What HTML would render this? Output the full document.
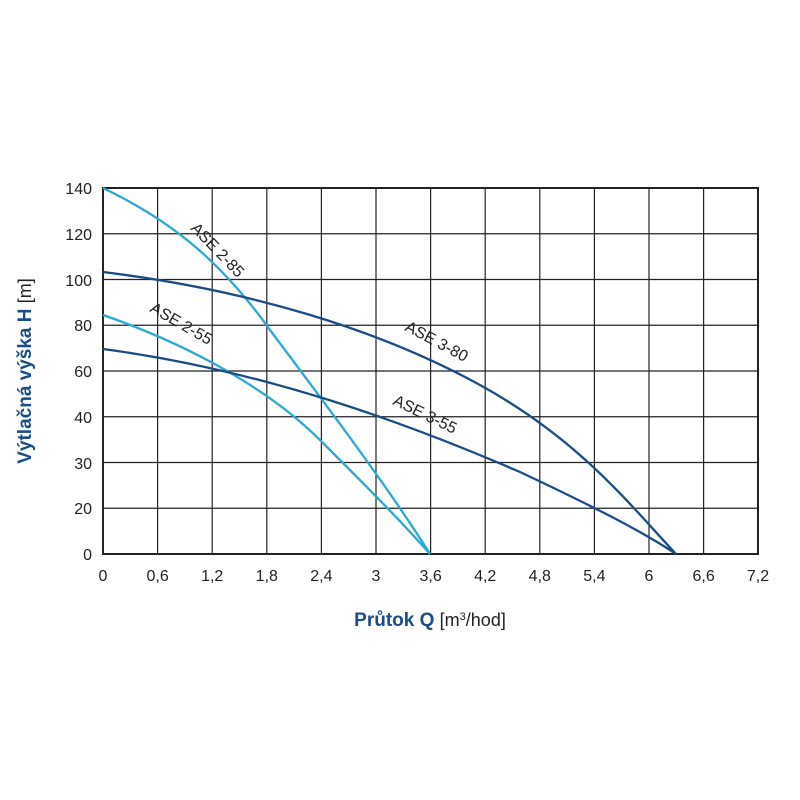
<!DOCTYPE html>
<html><head><meta charset="utf-8"><style>body{margin:0;background:#fff}svg{display:block}</style></head>
<body>
<svg width="800" height="800" xmlns="http://www.w3.org/2000/svg" font-family="Liberation Sans, sans-serif">
<rect width="800" height="800" fill="#fff"/>
<g stroke="#222" stroke-width="1.2">
<line x1="157.6" y1="188" x2="157.6" y2="554"/><line x1="212.2" y1="188" x2="212.2" y2="554"/><line x1="266.8" y1="188" x2="266.8" y2="554"/><line x1="321.4" y1="188" x2="321.4" y2="554"/><line x1="376" y1="188" x2="376" y2="554"/><line x1="430.6" y1="188" x2="430.6" y2="554"/><line x1="485.2" y1="188" x2="485.2" y2="554"/><line x1="539.8" y1="188" x2="539.8" y2="554"/><line x1="594.4" y1="188" x2="594.4" y2="554"/><line x1="649" y1="188" x2="649" y2="554"/><line x1="703.6" y1="188" x2="703.6" y2="554"/>
<line x1="103" y1="233.75" x2="758" y2="233.75"/><line x1="103" y1="279.5" x2="758" y2="279.5"/><line x1="103" y1="325.25" x2="758" y2="325.25"/><line x1="103" y1="371" x2="758" y2="371"/><line x1="103" y1="416.75" x2="758" y2="416.75"/><line x1="103" y1="462.5" x2="758" y2="462.5"/><line x1="103" y1="508.25" x2="758" y2="508.25"/>
</g>
<rect x="103" y="188" width="655" height="366" fill="none" stroke="#222" stroke-width="2"/>
<g fill="none" stroke-width="2.3">
<path d="M103,188 C170,220 220,260 270,330 C330,410 390,490 430,554" stroke="#2aa8d6"/>
<path d="M103,315 C190,345 270,390 320,440 C370,490 400,520 430,554" stroke="#2aa8d6"/>
<path d="M103,272 C250,290 380,330 480,385 C580,440 630,505 676,554" stroke="#1a4c85"/>
<path d="M103,349 C260,370 400,420 520,472 C590,505 640,530 676,554" stroke="#1a4c85"/>
</g>
<g font-size="16" fill="#222">
<text transform="translate(190,229) rotate(46)">ASE 2-85</text>
<text transform="translate(149,311) rotate(30)">ASE 2-55</text>
<text transform="translate(404,330) rotate(28)">ASE 3-80</text>
<text transform="translate(392,404) rotate(26)">ASE 3-55</text>
</g>
<g font-size="16" fill="#222" text-anchor="end">
<text x="92" y="194">140</text><text x="92" y="240">120</text><text x="92" y="286">100</text><text x="92" y="331">80</text><text x="92" y="377">60</text><text x="92" y="423">40</text><text x="92" y="469">30</text><text x="92" y="514">20</text><text x="92" y="560">0</text>
</g>
<g font-size="16" fill="#222" text-anchor="middle">
<text x="103" y="581">0</text><text x="157.6" y="581">0,6</text><text x="212.2" y="581">1,2</text><text x="266.8" y="581">1,8</text><text x="321.4" y="581">2,4</text><text x="376" y="581">3</text><text x="430.6" y="581">3,6</text><text x="485.2" y="581">4,2</text><text x="539.8" y="581">4,8</text><text x="594.4" y="581">5,4</text><text x="649" y="581">6</text><text x="703.6" y="581">6,6</text><text x="758" y="581">7,2</text>
</g>
<text x="430" y="626" text-anchor="middle" font-size="19" fill="#1a4c85"><tspan font-weight="bold">Průtok Q</tspan> <tspan fill="#222" font-size="18">[m<tspan baseline-shift="super" font-size="11">3</tspan>/hod]</tspan></text>
<text transform="translate(31,371) rotate(-90)" text-anchor="middle" font-size="19" fill="#1a4c85"><tspan font-weight="bold">Výtlačná výška H</tspan> <tspan fill="#222" font-size="18">[m]</tspan></text>
</svg>
</body></html>
